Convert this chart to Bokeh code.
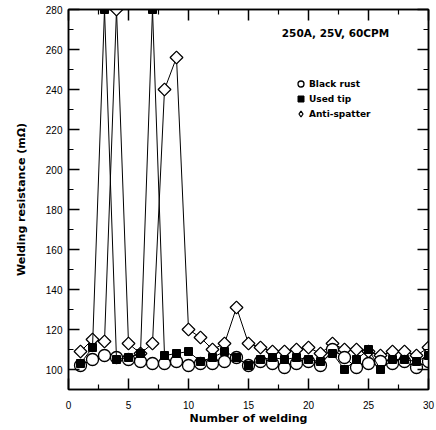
import math
from bokeh.plotting import figure
from bokeh.models import Range1d, LinearAxis, FixedTicker, Legend, LegendItem, Label
from bokeh.embed import file_html
from bokeh.resources import INLINE

# ---- data ----
weld_no = list(range(1, 31))
black_rust = [102, 105, 107, 106, 105, 104, 103, 103, 104, 102,
              103, 103, 104, 106, 102, 104, 103, 101, 103, 104,
              102, 110, 106, 101, 103, 104, 103, 104, 101, 104]
used_tip = [103, 111, 280, 105, 106, 108, 280, 107, 108, 109,
            104, 106, 109, 106, 102, 105, 106, 105, 106, 105,
            104, 108, 100, 105, 110, 100, 105, 105, 104, 107]
anti_spatter = [109, 115, 114, 280, 113, 108, 113, 240, 256, 120,
                116, 110, 113, 131, 113, 111, 109, 109, 110, 111,
                108, 113, 110, 110, 109, 107, 109, 109, 107, 111]
series_names = ["Black rust", "Used tip", "Anti-spatter"]
x_ticks = [0, 5, 10, 15, 20, 25, 30]
x_minor = [2.5, 7.5, 12.5, 17.5, 22.5, 27.5]
y_ticks = [100, 120, 140, 160, 180, 200, 220, 240, 260, 280]
y_minor = [90, 110, 130, 150, 170, 190, 210, 230, 250, 270]
x_title = "Number of welding"
y_title = "Welding resistance (mΩ)"
note_text = "250A, 25V, 60CPM"

p = figure(width=436, height=430, x_range=Range1d(0, 30), y_range=Range1d(90, 280),
           output_backend="svg", toolbar_location=None,
           min_border_left=68, min_border_right=8, min_border_top=9, min_border_bottom=41)
p.grid.visible = False
p.outline_line_color = "black"
p.outline_line_width = 1.5
p.background_fill_color = "white"
p.border_fill_color = "white"

def style_axis(ax, ticks, minor, show_labels):
    ax.ticker = FixedTicker(ticks=ticks, minor_ticks=minor)
    ax.axis_line_color = "black"
    ax.axis_line_width = 1.5
    ax.major_tick_line_color = "black"
    ax.major_tick_line_width = 1.5
    ax.minor_tick_line_color = "black"
    ax.minor_tick_line_width = 1.2
    ax.major_tick_in = 11
    ax.major_tick_out = 0
    ax.minor_tick_in = 5
    ax.minor_tick_out = 0
    if show_labels:
        ax.major_label_text_font = "Liberation Sans"
        ax.major_label_text_font_size = "10px"
        ax.major_label_text_color = "black"
        ax.axis_label_text_font = "DejaVu Sans"
        ax.axis_label_text_font_style = "bold"
        ax.axis_label_text_font_size = "11px"
        ax.axis_label_text_color = "black"
    else:
        ax.major_label_text_font_size = "1px"
        ax.major_label_text_color = None
        ax.major_label_standoff = 0

xa = p.xaxis[0]
style_axis(xa, x_ticks, x_minor, True)
xa.axis_label = x_title
xa.major_label_standoff = 11
xa.axis_label_standoff = 0

ya = p.yaxis[0]
style_axis(ya, y_ticks, y_minor, True)
ya.axis_label = y_title
ya.major_label_standoff = 6
ya.axis_label_standoff = 15

top_ax = LinearAxis()
style_axis(top_ax, x_ticks, x_minor, False)
p.add_layout(top_ax, "above")
right_ax = LinearAxis()
style_axis(right_ax, y_ticks, y_minor, False)
p.add_layout(right_ax, "right")

# anti-spatter: legend-only diamond glyph hidden beneath the drawn diamonds
r_as_leg = p.scatter(weld_no, anti_spatter, marker="diamond", size=9,
                     fill_color="white", line_color="black", line_width=1.3)
p.line(weld_no, anti_spatter, line_color="black", line_width=1)
p.scatter(weld_no, anti_spatter, marker="square", angle=math.pi / 4, size=9,
          fill_color="white", line_color="black", line_width=1.3)
# black rust (open circles)
p.line(weld_no, black_rust, line_color="black", line_width=1)
r_br = p.scatter(weld_no, black_rust, marker="circle", size=12,
                 fill_color="white", line_color="black", line_width=1.3)
# used tip (filled squares)
p.line(weld_no, used_tip, line_color="black", line_width=1)
r_ut = p.scatter(weld_no, used_tip, marker="square", size=8,
                 fill_color="black", line_color="black", line_width=1)

legend = Legend(items=[LegendItem(label=series_names[0], renderers=[r_br]),
                       LegendItem(label=series_names[1], renderers=[r_ut]),
                       LegendItem(label=series_names[2], renderers=[r_as_leg])],
                location=(225, 268), glyph_width=15, glyph_height=15, label_height=15,
                spacing=0, padding=0, margin=0, label_standoff=1,
                border_line_color=None, background_fill_alpha=0,
                label_text_font="DejaVu Sans", label_text_font_style="bold",
                label_text_font_size="9px", label_text_color="black")
p.add_layout(legend)

note = Label(x=22.25, y=268.5, text=note_text, text_align="center", text_baseline="middle",
             text_font="DejaVu Sans", text_font_style="bold", text_font_size="10.5px",
             text_color="black")
p.add_layout(note)

open("out.html", "w").write(file_html(p, INLINE))
